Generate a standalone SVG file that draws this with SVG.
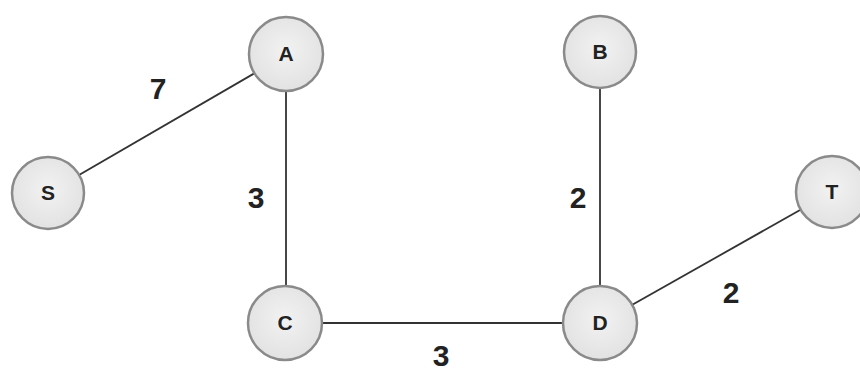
<svg xmlns="http://www.w3.org/2000/svg" width="860" height="372" viewBox="0 0 860 372">
<defs>
<radialGradient id="g" cx="50%" cy="45%" r="55%">
<stop offset="0" stop-color="#f2f2f2"/>
<stop offset="1" stop-color="#e2e2e2"/>
</radialGradient>
<style>
.n{fill:url(#g);stroke:#8a8a8a;stroke-width:2.5}
.t{font-family:"Liberation Sans",Arial,sans-serif;font-weight:bold;font-size:21px;fill:#222;text-anchor:middle}
.w{font-family:"Liberation Sans",Arial,sans-serif;font-weight:bold;font-size:30px;fill:#222;text-anchor:middle}
.e{stroke:#333;stroke-width:1.8;fill:none}
</style>
</defs>
<rect width="860" height="372" fill="#fff"/>
<g id="connectors">
<line class="e" x1="48" y1="193" x2="286" y2="55"/>
<line class="e" x1="286" y1="55" x2="286" y2="323"/>
<line class="e" x1="286" y1="323" x2="600" y2="323"/>
<line class="e" x1="600" y1="52" x2="600" y2="323"/>
<line class="e" x1="600" y1="323" x2="832" y2="192"/>
<text class="w" x="158" y="99">7</text>
<text class="w" x="256" y="208">3</text>
<text class="w" x="578" y="208">2</text>
<text class="w" x="731" y="303">2</text>
<text class="w" x="441" y="366">3</text>
</g>
<g id="S"><circle class="n" cx="48" cy="193" r="36"/><text class="t" x="48" y="200">S</text></g>
<g id="A"><circle class="n" cx="286" cy="54" r="37"/><text class="t" x="286" y="61">A</text></g>
<g id="B"><circle class="n" cx="600" cy="52" r="36"/><text class="t" x="600" y="59">B</text></g>
<g id="C"><circle class="n" cx="285" cy="323" r="37"/><text class="t" x="285" y="330">C</text></g>
<g id="D"><circle class="n" cx="600" cy="323" r="37"/><text class="t" x="600" y="330">D</text></g>
<g id="T"><circle class="n" cx="832" cy="192" r="36"/><text class="t" x="832" y="199">T</text></g>
</svg>
